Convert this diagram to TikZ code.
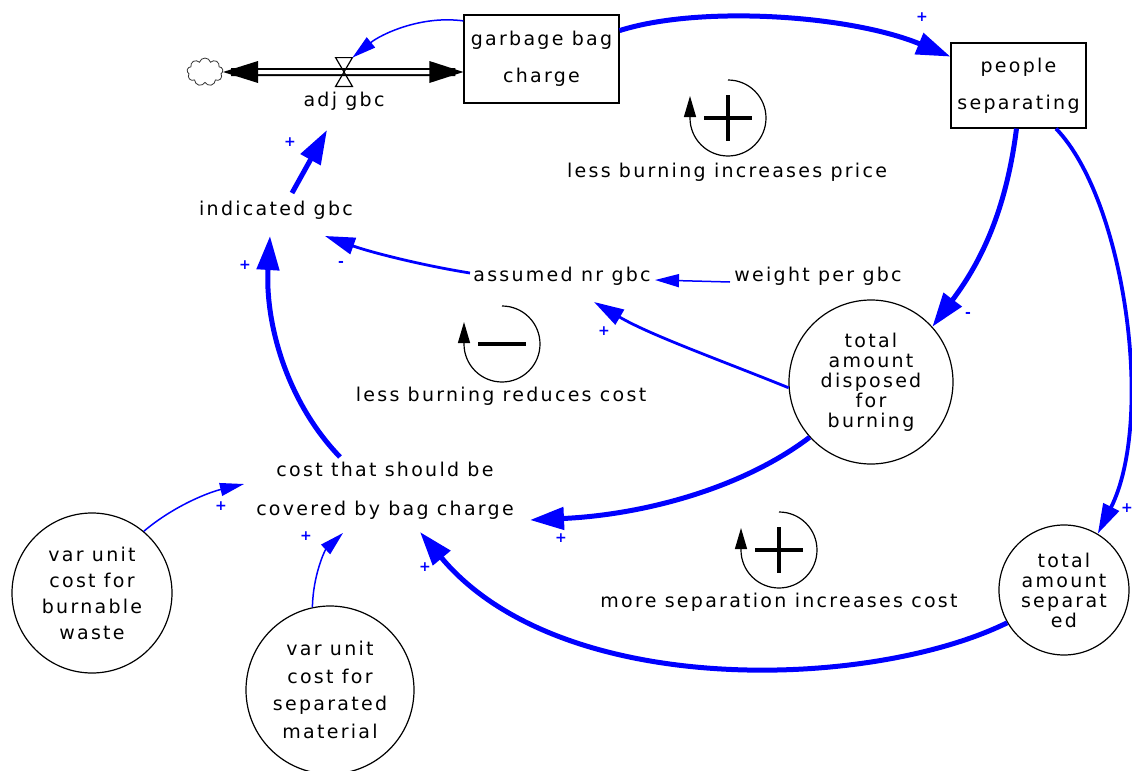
\documentclass[tikz,border=0pt]{standalone}
\usepackage{fontspec}
\setmainfont{DejaVu Sans}[LetterSpace=12]
\usetikzlibrary{arrows.meta,shapes.symbols}

\tikzset{
  stock/.style={draw,line width=.6pt,align=center,inner sep=0pt},
  aux/.style={draw,circle,line width=.6pt,align=center,inner sep=0pt},
  sgn/.style={text=blue,font=\fontsize{7}{7}\selectfont\bfseries,inner sep=0pt},
  lnkthin/.style={blue,line width=.75pt,-{Triangle[length=12pt,width=6.5pt]}},
  lnkmid/.style={blue,line width=1.4pt,-{Triangle[length=15pt,width=8.5pt]}},
  lnkthick/.style={blue,line width=2.5pt,-{Triangle[length=17pt,width=11pt]}},
  pipe/.style={double,double distance=2pt,line width=1pt,shorten <=4pt,shorten >=4pt}
}

\begin{document}
\begin{tikzpicture}[x=.5pt,y=-.5pt,every node/.style={font=\fontsize{9.5}{11}\selectfont}]
 \useasboundingbox (0,0) rectangle (1132,771);
 % stocks and flow
 \node[stock,minimum width=77.5pt,minimum height=44pt] (garb) at (541.5,59) {garbage bag\\[7.5pt]charge};
 \node[stock,minimum width=67.5pt,minimum height=42.5pt] (people) at (1018.5,85.5) {people\\[7.5pt]separating};
 \node[cloud,draw=black!80,cloud puffs=9,aspect=1.3,minimum width=18pt,minimum height=14pt,inner sep=0pt] (cloud) at (205,72) {};
 \node[minimum width=8pt,minimum height=14pt,inner sep=0pt] (valve) at (344,72) {};
 \node (adj) at (344,101) {adj gbc};
 \draw[pipe] (cloud.east) -- (valve.center -| garb.west);
 \fill (cloud.east) -- ++(35,-11) -- ++(0,22) -- cycle;
 \fill (valve.center -| garb.west) -- ++(-34,-11) -- ++(0,22) -- cycle;
 \draw[line width=.6pt] (valve.north west) -- (valve.north east) -- (valve.south west) -- (valve.south east) -- cycle;
 % variables
 \node (ind) at (276,210) {indicated gbc};
 \node (ass) at (562,276) {assumed nr gbc};
 \node (wpg) at (818,276) {weight per gbc};
 \node[align=center] (cost) at (385,491) {cost that should be\\[8.5pt]covered by bag charge};
 \node[aux,minimum size=82pt,font=\fontsize{9.5}{10}\selectfont] (disp) at (871,382) {total\\amount\\disposed\\for\\burning};
 \node[aux,minimum size=65pt,font=\fontsize{9.5}{10}\selectfont] (sep) at (1064,590) {total\\amount\\separat\\ed};
 \node[aux,minimum size=80pt,font=\fontsize{9.5}{13}\selectfont] (vb) at (92,593) {var unit\\cost for\\burnable\\waste};
 \node[aux,minimum size=84pt,font=\fontsize{9.5}{13.7}\selectfont] (vs) at (330,690) {var unit\\cost for\\separated\\material};
 % links
 \draw[lnkthick] (garb.20) .. controls (700,5) and (850,15) .. (people.157);
 \draw[lnkthin] (garb.154) .. controls (420,15) and (380,35) .. (valve.north east);
 \draw[lnkthick] ([shift={(16,-17)}]ind.center) -- ([shift={(-17,29)}]adj.center);
 \draw[lnkthick] ([shift={(-45,-34)}]cost.center) .. controls (285,400) and (265,320) .. ([shift={(-6,26)}]ind.center);
 \draw[lnkmid] ([shift={(-92,-3)}]ass.center) .. controls (420,265) and (370,252) .. ([shift={(49,26)}]ind.center);
 \draw[lnkthin] ([shift={(-88,6)}]wpg.center) -- ([shift={(93,4)}]ass.center);
 \draw[lnkthick] ([xshift=-1pt]people.south) .. controls (1005,220) and (975,270) .. (disp.42);
 \draw[lnkmid] (disp.184) .. controls (720,360) and (650,335) .. ([shift={(32,26)}]ass.center);
 \draw[lnkthick] (disp.222) .. controls (740,490) and (640,515) .. ([shift={(145,29)}]cost.center);
 \draw[lnkmid,line width=1.9pt] ([xshift=18.75pt]people.south) .. controls (1125,200) and (1155,420) .. (sep.59);
 \draw[lnkthick] (sep.210) .. controls (870,690) and (560,700) .. ([shift={(35,41)}]cost.center);
 \draw[lnkthin] (vb.50) .. controls (175,505) and (210,492) .. ([shift={(-141,-7)}]cost.center);
 \draw[lnkthin] (vs.102) .. controls (313,575) and (325,550) .. ([shift={(-42,42)}]cost.center);
 % polarities
 \node[sgn] (pgp) at (922,17) {+};
 \node[sgn] (pia) at (290,142) {+};
 \node[sgn] (pci) at (245,265) {+};
 \node[sgn] (mai) at (341,264) {-};
 \node[sgn] (mpd) at (968,315) {-};
 \node[sgn] (pda) at (604,331) {+};
 \node[sgn] (pdc) at (561,538) {+};
 \node[sgn] (pps) at (1127,508) {+};
 \node[sgn] (psc) at (425,567) {+};
 \node[sgn] (pvb) at (221,506) {+};
 \node[sgn] (pvs) at (306,536) {+};
 % loops
 \foreach \cx/\cy/\s in {728/118/1,502/344/0,779/550/1}
   {\draw[line width=.6pt,-{Triangle[length=10.5pt,width=6pt]}] (\cx,\cy-38) arc[start angle=90,end angle=-180,radius=19pt] -- ++(0,-22);
    \draw[line width=1.8pt] (\cx-24,\cy) -- (\cx+24,\cy);
    \ifnum\s=1 \draw[line width=1.8pt] (\cx,\cy-23) -- (\cx,\cy+23); \fi}
 \node (lprice) at (727,172) {less burning increases price};
 \node (lcost) at (501,396) {less burning reduces cost};
 \node (lsep) at (779,602) {more separation increases cost};
\end{tikzpicture}
\end{document}
